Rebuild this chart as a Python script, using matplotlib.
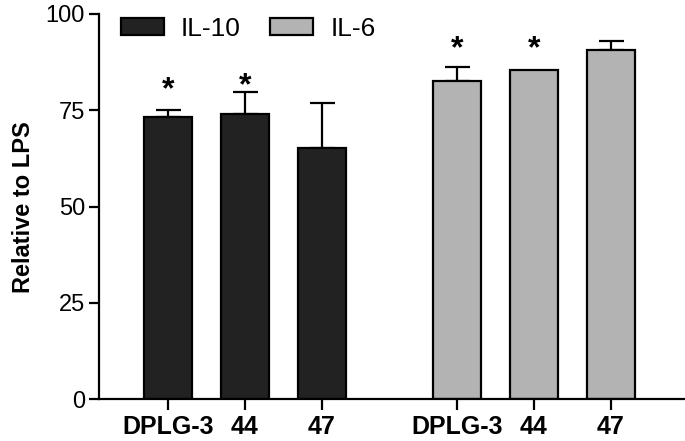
import numpy as np
import matplotlib
matplotlib.use("Agg")
import matplotlib.pyplot as plt

plt.rcParams['font.family'] = ['Liberation Sans', 'DejaVu Sans']

labels = ["DPLG-3", "44", "47"]
il10_mean = [73.2, 74.1, 65.3]
il10_err = [1.9, 5.7, 11.5]
il10_star = [81.4, 82.5, None]
il6_mean = [82.6, 85.4, 90.6]
il6_err = [3.6, 0.0, 2.4]
il6_star = [92.0, 92.0, None]

x10 = np.arange(3)
x6 = np.arange(3) + 3.75
w = 0.62

fig = plt.figure(figsize=(6.85, 4.41), dpi=100)
ax = fig.add_axes([0.1445, 0.0946, 0.8555, 0.8737])

ax.bar(x10, il10_mean, w, color="#222222", edgecolor="black", lw=1.6, label="IL-10", zorder=2)
ax.bar(x6, il6_mean, w, color="#b3b3b3", edgecolor="black", lw=1.6, label="IL-6", zorder=2)
for xs, m, e in [(x10, il10_mean, il10_err), (x6, il6_mean, il6_err)]:
    for xi, mi, ei in zip(xs, m, e):
        if ei > 0:
            ax.errorbar(xi, mi, yerr=[[0], [ei]], color="black", capsize=9, elinewidth=1.6,
                        capthick=1.6, zorder=1)

# asterisks: glyph centre placed at star value
fs_star = 23
for xs, st in [(x10, il10_star), (x6, il6_star)]:
    for xi, si in zip(xs, st):
        if si is not None:
            ax.annotate("*", (xi, si), xytext=(0, -0.40 * fs_star), textcoords="offset points",
                        ha="center", va="baseline", fontsize=fs_star, fontweight="bold")

ax.set_xlim(-0.896, 6.714)
ax.set_ylim(0, 100)
ax.set_yticks([0, 25, 50, 75, 100])
ax.set_xticks(list(x10) + list(x6))
ax.set_xticklabels(labels + labels, fontweight="bold", fontsize=18)
ax.tick_params(axis="y", labelsize=17, length=7, width=1.6, direction="out", pad=3)
ax.tick_params(axis="x", length=8, width=1.6, direction="out", pad=3)
for sp in ["top", "right"]:
    ax.spines[sp].set_visible(False)
for sp in ["left", "bottom"]:
    ax.spines[sp].set_linewidth(1.6)
ax.set_ylabel("Relative to LPS", fontsize=17, fontweight="bold", labelpad=8)

ax.legend(loc="center left", bbox_to_anchor=(0.0375, 0.961), ncol=2, frameon=False, fontsize=19,
          borderpad=0, borderaxespad=0, handlelength=1.63, handleheight=0.6,
          columnspacing=1.1, handletextpad=0.65)

fig.savefig("out.png", dpi=100)
